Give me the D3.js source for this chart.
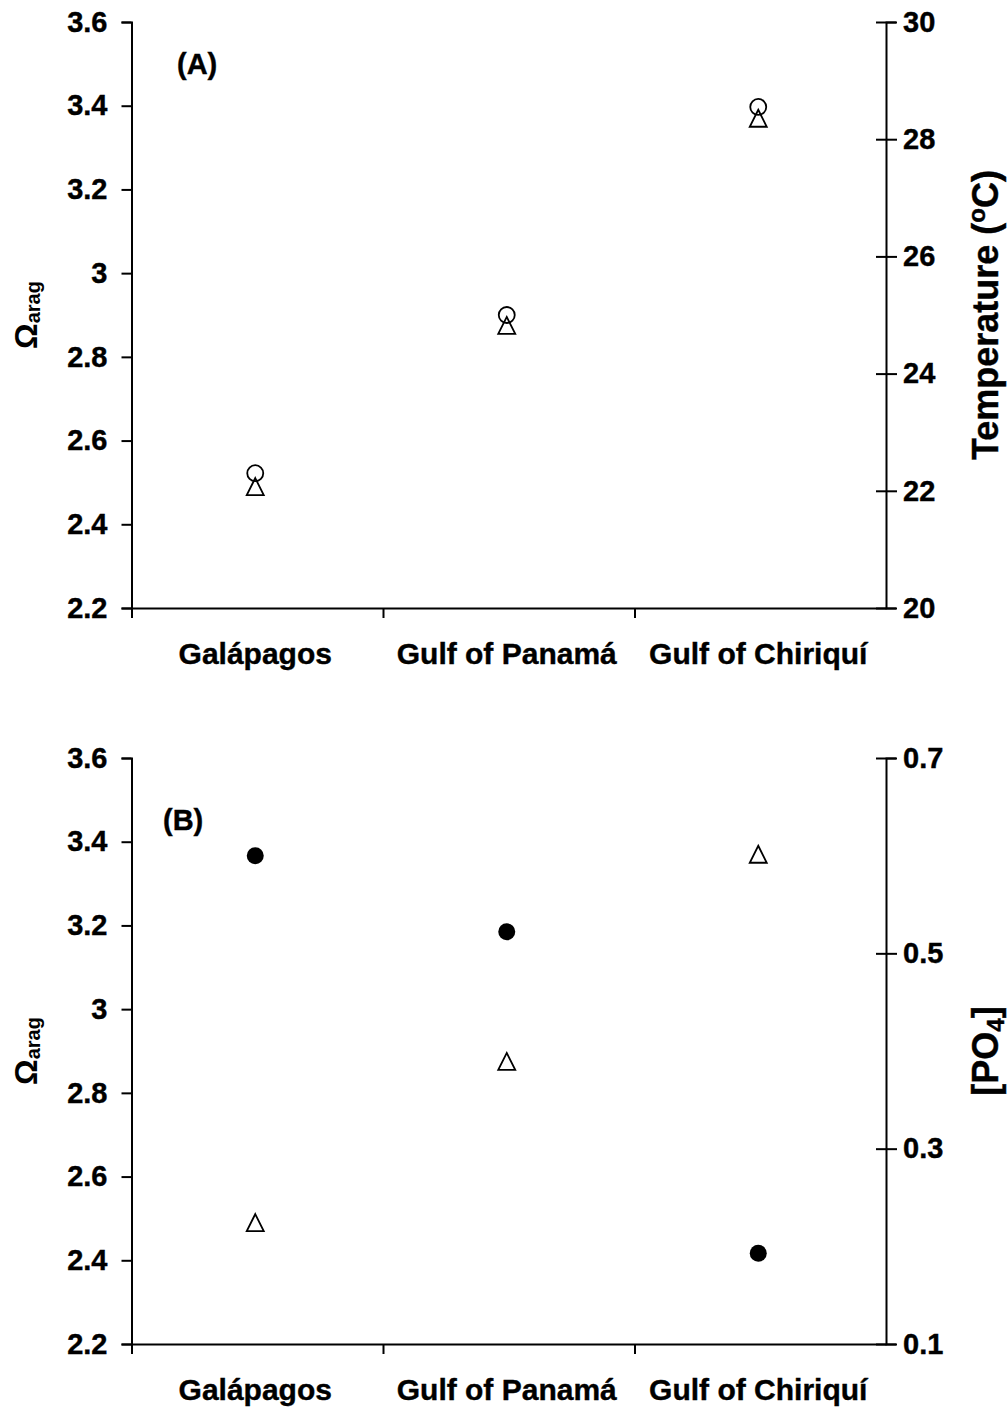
<!DOCTYPE html>
<html>
<head>
<meta charset="utf-8">
<script src="https://cdn.jsdelivr.net/npm/d3@7"></script>
<style>
  html, body { margin: 0; padding: 0; background: #fff; }
  svg { display: block; }
  text { font-family: "Liberation Sans", Arial, sans-serif; font-weight: bold; fill: #000; }
</style>
</head>
<body>
<svg id="chart" width="1008" height="1407"></svg>
<script>
// Sites along the eastern tropical Pacific
const categories = ["Galápagos", "Gulf of Panamá", "Gulf of Chiriquí"];

// Aragonite saturation state at each site
const omegaArag = [2.49, 2.875, 3.37];
// Sea surface temperature (°C)
const temperature = [22.3, 25.0, 28.55];
// Phosphate concentration
const phosphate = [0.60, 0.522, 0.193];

// Tick values
const omegaTicks = [2.2, 2.4, 2.6, 2.8, 3, 3.2, 3.4, 3.6];
const tempTicks = [20, 22, 24, 26, 28, 30];
const po4Ticks = [0.1, 0.3, 0.5, 0.7];

const svg = d3.select("#chart");
const left = 131.5, right = 886;
const fontSize = 29;

const trianglePath = "M0,-8.5L8.5,8.5L-8.5,8.5Z";

function boldText(sel) {
  return sel.attr("stroke", "#000").attr("stroke-width", 0.4);
}

function panel(opts) {
  const { top, bottom, rightDomain, rightTicks, panelLabel, labelX, labelDy, rightSeries, rightFilled, drawTitle } = opts;
  const g = svg.append("g");

  const x = d3.scaleBand().domain(categories).range([left, right]).padding(0);
  const y = d3.scaleLinear().domain([2.2, 3.6]).range([bottom, top]);
  const yR = d3.scaleLinear().domain(rightDomain).range([bottom, top]);

  // left axis
  const axL = g.append("g").attr("transform", `translate(${left},0)`)
    .call(d3.axisLeft(y).tickValues(omegaTicks).tickFormat(d => String(d)).tickSizeOuter(0).tickSize(10).tickPadding(14));
  // right axis with ticks crossing the line
  const axR = g.append("g").attr("transform", `translate(${right},0)`)
    .call(d3.axisRight(yR).tickValues(rightTicks).tickFormat(d => String(d)).tickSizeOuter(0).tickSize(10).tickPadding(7));
  axR.selectAll(".tick line").attr("x1", -10).attr("x2", 11);
  axR.selectAll(".tick text").attr("x", 17);

  // bottom axis: boundary ticks between sites
  const bx = d3.scaleLinear().domain([0, categories.length]).range([left, right]);
  const axB = g.append("g").attr("transform", `translate(0,${bottom})`)
    .call(d3.axisBottom(bx).tickValues(d3.range(categories.length + 1)).tickFormat("").tickSize(10).tickSizeOuter(0));
  axB.selectAll(".tick").filter((d, i) => i === categories.length).select("line").remove();

  [axL, axR, axB].forEach(a => {
    a.selectAll("path.domain").attr("stroke", "#000").attr("stroke-width", 2);
    a.selectAll(".tick line").attr("stroke", "#000").attr("stroke-width", 2);
    boldText(a.selectAll(".tick text")
      .style("font-size", fontSize + "px")
      .style("font-family", "Liberation Sans, Arial, sans-serif")
      .style("font-weight", "bold")
      .attr("fill", "#000"));
  });

  // category labels
  boldText(g.selectAll("text.cat").data(categories).join("text")
    .attr("class", "cat")
    .attr("x", d => x(d) + x.bandwidth() / 2 - 2)
    .attr("y", bottom + 56)
    .attr("text-anchor", "middle")
    .style("font-size", "30px")
    .text(d => d));

  // panel label
  boldText(g.append("text").attr("x", labelX).attr("y", top + labelDy)
    .style("font-size", fontSize + "px").text(panelLabel));

  // left title: Ω with subscript "arag"
  const mid = (top + bottom) / 2;
  const tl = g.append("text")
    .attr("transform", `translate(37,${mid}) rotate(-90)`)
    .attr("text-anchor", "middle");
  tl.append("tspan").style("font-size", "32px").text("Ω");
  tl.append("tspan").style("font-size", "20px").attr("dy", 3).text("arag");

  // right title
  const tr = boldText(g.append("text")
    .attr("transform", `translate(998,${mid}) rotate(-90)`)
    .attr("text-anchor", "middle")
    .style("font-size", "36px"));
  drawTitle(tr);

  // right-axis series (circles)
  g.selectAll("circle.r").data(rightSeries).join("circle")
    .attr("class", "r")
    .attr("cx", (d, i) => x(categories[i]) + x.bandwidth() / 2 - 2)
    .attr("cy", d => yR(d))
    .attr("r", rightFilled ? 8.5 : 8)
    .attr("fill", rightFilled ? "#000" : "none")
    .attr("stroke", "#000")
    .attr("stroke-width", rightFilled ? 0 : 1.8);

  // Ωarag series (open triangles)
  g.selectAll("path.tri").data(omegaArag).join("path")
    .attr("class", "tri")
    .attr("d", trianglePath)
    .attr("transform", (d, i) => `translate(${x(categories[i]) + x.bandwidth() / 2 - 2},${y(d)})`)
    .attr("fill", "none")
    .attr("stroke", "#000")
    .attr("stroke-width", 1.8)
    .attr("stroke-linejoin", "miter");
}

panel({
  top: 22, bottom: 608,
  rightDomain: [20, 30], rightTicks: tempTicks,
  panelLabel: "(A)", labelX: 177, labelDy: 52,
  rightSeries: temperature, rightFilled: false,
  drawTitle: t => {
    t.append("tspan").text("Temperature (");
    t.append("tspan").style("font-size", "24px").attr("dy", -13).text("o");
    t.append("tspan").attr("dy", 13).text("C)");
  }
});

panel({
  top: 758, bottom: 1344,
  rightDomain: [0.1, 0.7], rightTicks: po4Ticks,
  panelLabel: "(B)", labelX: 163, labelDy: 72,
  rightSeries: phosphate, rightFilled: true,
  drawTitle: t => {
    t.append("tspan").text("[PO");
    t.append("tspan").style("font-size", "24px").attr("dy", 6).text("4");
    t.append("tspan").attr("dy", -6).text("]");
  }
});
</script>
</body>
</html>
